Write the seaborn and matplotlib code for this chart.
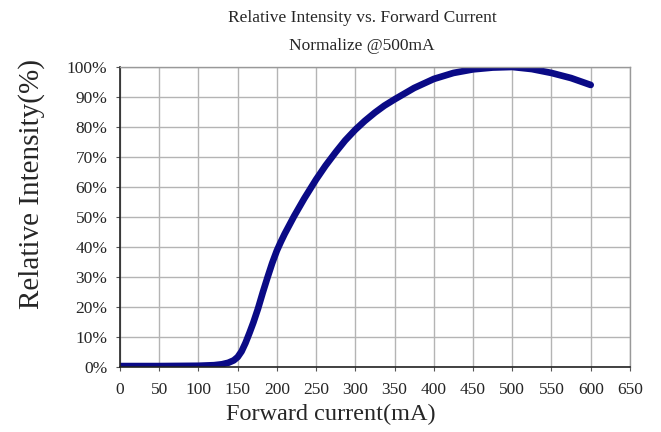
import numpy as np
import pandas as pd
import matplotlib
matplotlib.use("Agg")
import matplotlib.pyplot as plt
import seaborn as sns

# values
current_ma = [0, 50, 100, 120, 130, 138, 145, 150, 155, 160, 165, 170, 176, 182,
              188, 194, 200, 205, 210, 222, 235, 250, 262, 275, 287, 300, 312, 325,
              337, 350, 375, 400, 425, 450, 475, 500, 525, 550, 575, 600]
intensity_pct = [0.3, 0.3, 0.4, 0.6, 0.9, 1.4, 2.2, 3.3, 5.2, 8.0, 11.3, 14.8, 19.5,
                 24.8, 29.8, 34.6, 38.8, 41.7, 44.4, 50.3, 56.2, 62.5, 67.1, 71.6,
                 75.5, 79.1, 82.0, 84.8, 87.1, 89.2, 93.0, 96.0, 98.0, 99.2, 99.8,
                 100.0, 99.3, 98.0, 96.3, 94.0]

x_ticks = list(range(0, 651, 50))
y_ticks = list(range(0, 101, 10))
y_tick_labels = [f"{v}%" for v in y_ticks]

df = pd.DataFrame({"current": current_ma, "intensity": intensity_pct})

sns.set_style("whitegrid")
plt.rcParams["font.family"] = ["Liberation Serif", "DejaVu Serif"]

fig = plt.figure(figsize=(6.61, 4.32), dpi=100)
ax = fig.add_axes([0.1815, 0.1505, 0.7715, 0.6945])

sns.lineplot(data=df, x="current", y="intensity", ax=ax, color="#0a0a86",
             linewidth=4.8, solid_capstyle="round", solid_joinstyle="round")

ax.set_xlim(0, 650)
ax.set_ylim(0, 100)
ax.set_xticks(x_ticks)
ax.set_yticks(y_ticks)
ax.set_yticklabels(y_tick_labels)
ax.tick_params(labelsize=12.5, length=3, direction="out", color="#555555",
               left=True, bottom=True)
ax.tick_params(axis="x", pad=8)
ax.tick_params(axis="y", pad=6)
ax.grid(True, color="#b4b4b4", linewidth=1.0)

for side in ["top", "right"]:
    ax.spines[side].set_color("#999999")
    ax.spines[side].set_linewidth(1.0)
for side in ["left", "bottom"]:
    ax.spines[side].set_color("#222222")
    ax.spines[side].set_linewidth(1.2)

ax.set_xlabel("Forward current(mA)", fontsize=17.5)
ax.set_ylabel("Relative Intensity(%)", fontsize=21)
ax.xaxis.set_label_coords(0.413, -0.122)
ax.yaxis.set_label_coords(-0.147, 0.61)

fig.text(0.548, 0.958, "Relative Intensity vs. Forward Current", ha="center",
         va="center", fontsize=12.5)
fig.text(0.548, 0.893, "Normalize @500mA", ha="center", va="center", fontsize=12.5)

plt.savefig("out.png", dpi=100)
